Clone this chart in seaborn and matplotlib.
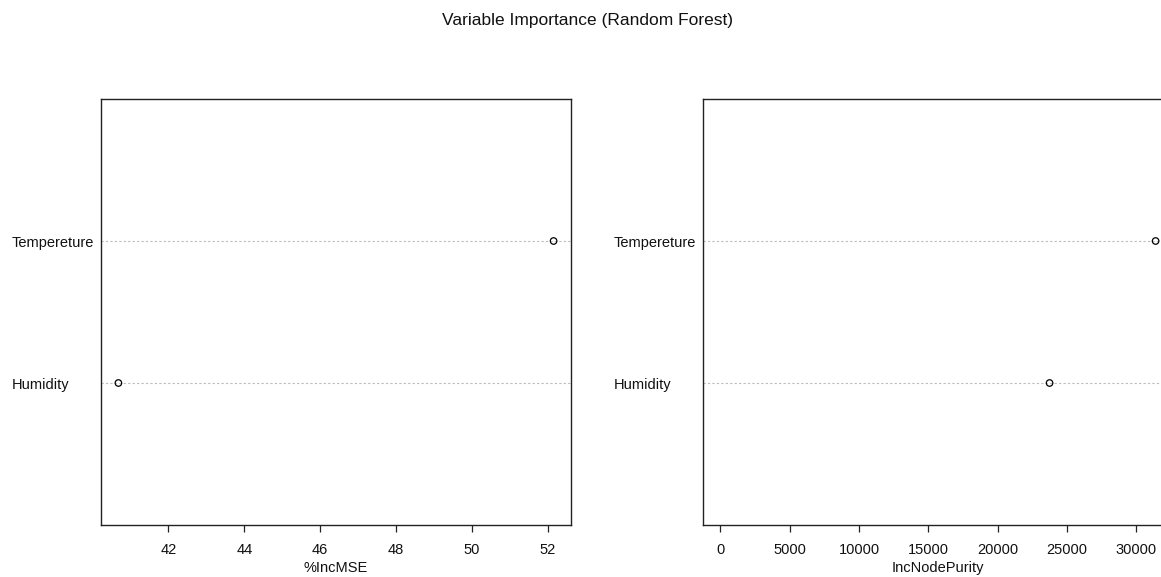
import matplotlib
matplotlib.use("Agg")
import matplotlib.pyplot as plt
import seaborn as sns
import pandas as pd

variables = ["Humidity", "Tempereture"]
inc_mse = [40.68, 52.16]
inc_node_purity = [23750, 31400]
title = "Variable Importance (Random Forest)"

sns.set_theme(style="white")
plt.rcParams["font.family"] = ["Liberation Sans", "DejaVu Sans"]
plt.rcParams["font.size"] = 10.5

W, H = 1161, 577
fig = plt.figure(figsize=(W / 100, H / 100), dpi=100)

ax1 = fig.add_axes([101 / W, 52 / H, 470 / W, 426 / H])
ax2 = fig.add_axes([703 / W, 52 / H, 470 / W, 426 / H])

df = pd.DataFrame({"var": variables, "mse": inc_mse, "purity": inc_node_purity})

def draw(ax, col, xlabel, xticks, xlim):
    ax.grid(False)
    sns.scatterplot(data=df, x=col, y="var", ax=ax, s=22, marker="o",
                    facecolor="none", edgecolor="black", linewidth=0.9, zorder=3)
    ax.set_ylim(-1, len(variables))
    ax.yaxis.grid(True, linestyle=(0, (2, 2)), color="#bbbbbb", linewidth=0.8)
    ax.set_axisbelow(True)
    ax.set_xlim(*xlim)
    ax.set_xticks(xticks)
    ax.set_xlabel(xlabel, fontsize=10.5, labelpad=3, color="#111111")
    ax.set_ylabel("")
    for s in ax.spines.values():
        s.set_visible(True)
        s.set_color("#222222")
        s.set_linewidth(1.0)
    ax.tick_params(axis="x", bottom=True, length=5, width=0.9, color="#222222",
                   pad=8, labelsize=10.5, labelcolor="#111111", direction="out")
    ax.tick_params(axis="y", left=False, pad=58.5, labelsize=10.5, labelcolor="#111111")
    for lab in ax.get_yticklabels():
        lab.set_horizontalalignment("left")

mse_lo, mse_hi = min(inc_mse), max(inc_mse)
r = mse_hi - mse_lo
draw(ax1, "mse", "%IncMSE", [42, 44, 46, 48, 50, 52],
     (mse_lo - 0.04 * r, mse_hi + 0.04 * r))
pmax = max(inc_node_purity)
draw(ax2, "purity", "IncNodePurity", [0, 5000, 10000, 15000, 20000, 25000, 30000],
     (-0.04 * pmax, 1.04 * pmax))

fig.text(588 / W, 1 - 20 / H, title, ha="center", va="center", fontsize=12.5, color="#111111")

fig.savefig("out.png", dpi=100, facecolor="white")
